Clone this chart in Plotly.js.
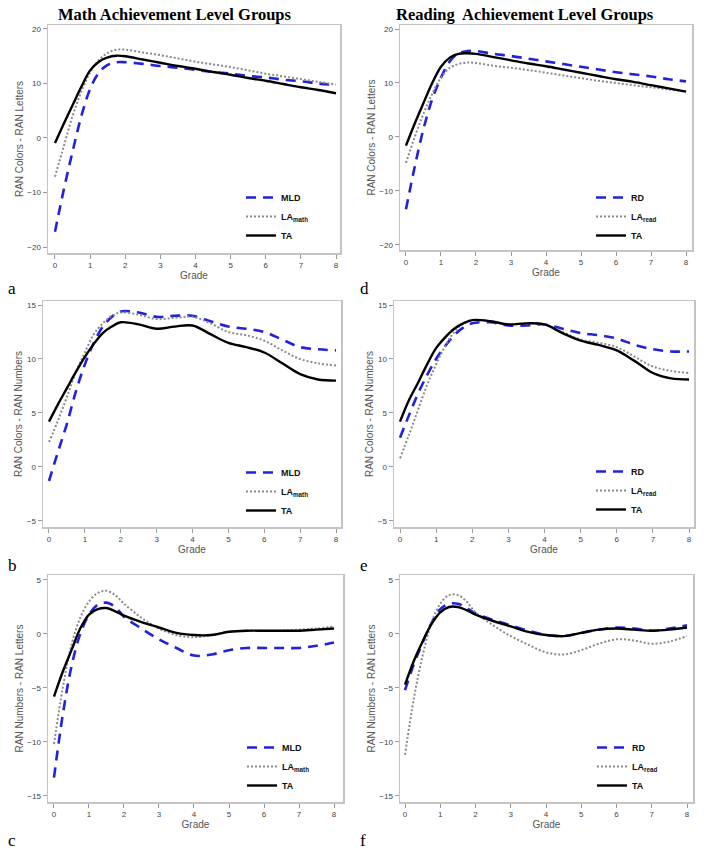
<!DOCTYPE html>
<html>
<head>
<meta charset="utf-8">
<script src="https://cdn.plot.ly/plotly-3.0.1.min.js"></script>
<style>html,body{margin:0;padding:0;background:#fff;}#chart{width:704px;height:852px;}</style>
</head>
<body>
<div id="chart"></div>
<script>
// ---- data ----
const grade = [0,0.25,0.5,0.75,1,1.25,1.5,1.75,2,2.5,3,3.5,4,4.5,5,5.5,6,6.5,7,7.5,8];
const xTicks = [0,1,2,3,4,5,6,7,8];

// (a) Math groups: RAN Colors - RAN Letters
const a_MLD = [-17.2,-9.5,-2.5,4,9,12,13.4,13.9,13.9,13.6,13.2,12.9,12.5,12.1,11.8,11.4,11.1,10.7,10.4,10.0,9.7];
const a_LA  = [-7.1,-1.5,4,8.5,12,14.3,15.6,16.2,16.2,15.7,15.2,14.6,14.0,13.5,13.0,12.4,11.8,11.3,10.8,10.3,9.8];
const a_TA  = [-0.9,2.6,6.0,9.4,12.4,14.0,14.8,15.1,15.0,14.4,13.8,13.2,12.7,12.1,11.6,11.0,10.5,9.9,9.3,8.8,8.2];
// (b) Math groups: RAN Colors - RAN Numbers
const b_MLD = [-1.3,1.4,4.0,7.0,9.5,11.5,13.0,13.9,14.4,14.3,13.9,14.0,14.0,13.5,13.0,12.8,12.5,11.8,11.1,10.9,10.8];
const b_LA  = [2.3,4.3,6.5,8.8,10.6,12.3,13.3,14.0,14.3,14.1,13.7,13.8,13.9,13.3,12.5,12.2,11.7,10.8,10.0,9.6,9.4];
const b_TA  = [4.2,5.8,7.3,8.8,10.2,11.4,12.4,13.0,13.4,13.2,12.8,13.0,13.1,12.3,11.5,11.1,10.6,9.6,8.6,8.1,8.0];
// (c) Math groups: RAN Numbers - RAN Letters
const c_MLD = [-13.3,-7.5,-3.0,0.0,1.8,2.7,2.9,2.5,1.6,0.5,-0.5,-1.3,-2.0,-1.9,-1.5,-1.3,-1.3,-1.3,-1.3,-1.1,-0.8];
const c_LA  = [-10.2,-5.0,-1.0,1.5,3.0,3.8,4.0,3.6,2.8,1.5,0.5,-0.1,-0.3,-0.1,0.2,0.3,0.3,0.3,0.4,0.5,0.7];
const c_TA  = [-5.8,-3.5,-1.5,0.5,1.8,2.3,2.4,2.1,1.7,1.1,0.6,0.1,-0.1,-0.1,0.2,0.3,0.3,0.3,0.3,0.4,0.5];
// (d) Reading groups: RAN Colors - RAN Letters
const d_RD  = [-13.4,-5.5,1.5,7,11,14,15.5,15.9,15.9,15.4,15.0,14.5,14.0,13.5,13.0,12.5,12.0,11.6,11.2,10.7,10.3];
const d_LA  = [-4.8,0,4.3,8,11,12.8,13.5,13.8,13.7,13.2,12.8,12.4,11.9,11.4,10.9,10.4,10.0,9.6,9.2,8.8,8.4];
const d_TA  = [-1.6,2.5,6.3,10,13,14.7,15.4,15.5,15.4,14.8,14.2,13.6,13.1,12.5,11.9,11.3,10.7,10.2,9.6,9.0,8.4];
// (e) Reading groups: RAN Colors - RAN Numbers
const e_RD  = [2.7,4.8,6.8,8.5,10.0,11.2,12.2,12.9,13.3,13.4,13.1,13.1,13.2,12.8,12.4,12.2,11.9,11.3,10.9,10.7,10.7];
const e_LA  = [0.8,3.0,5.3,7.6,9.5,11.2,12.5,13.3,13.6,13.5,13.2,13.3,13.2,12.5,11.8,11.5,11.1,10.2,9.3,8.9,8.7];
const e_TA  = [4.2,6.2,7.8,9.5,11.0,12.0,12.8,13.3,13.6,13.5,13.2,13.3,13.2,12.4,11.7,11.3,10.8,9.8,8.7,8.2,8.1];
// (f) Reading groups: RAN Numbers - RAN Letters
const f_RD  = [-5.2,-2.8,-0.8,1.0,2.3,2.8,2.8,2.4,1.9,1.3,0.8,0.3,-0.1,-0.2,0.1,0.4,0.6,0.5,0.3,0.5,0.8];
const f_LA  = [-11.2,-6.0,-2.0,1.0,2.8,3.6,3.6,3.0,2.0,0.8,-0.2,-1.0,-1.7,-1.9,-1.5,-0.9,-0.5,-0.6,-0.9,-0.7,-0.2];
const f_TA  = [-4.7,-2.5,-0.7,0.9,2.0,2.5,2.5,2.2,1.8,1.2,0.7,0.2,-0.1,-0.2,0.1,0.4,0.5,0.4,0.3,0.4,0.6];

const mathNames = ['<b>MLD</b>','<b>LA<sub>math</sub></b>','<b>TA</b>'];
const readNames = ['<b>RD</b>','<b>LA<sub>read</sub></b>','<b>TA</b>'];
const yLabels = ['RAN Colors - RAN Letters','RAN Colors - RAN Numbers','RAN Numbers - RAN Letters'];
const colTitles = ['Math Achievement Level Groups','Reading  Achievement Level Groups'];
const panelLetters = ['a','b','c','d','e','f'];

// ---- layout helpers (pixel boxes) ----
const W = 704, H = 852;
const px = v => v / W, py = v => 1 - v / H;

const panels = [
  {id:'',  series:[a_MLD,a_LA,a_TA], names:mathNames, ylab:yLabels[0], box:[48,340,25,253],  xr:[-0.199,8.114], yr:[-21.1,20.73], yt:[-20,-10,0,10,20], leg:[241,183]},
  {id:'2', series:[b_MLD,b_LA,b_TA], names:mathNames, ylab:yLabels[1], box:[43,341,301,527], xr:[-0.167,8.139], yr:[-5.56,15.37], yt:[-5,0,5,10,15], leg:[241,458]},
  {id:'3', series:[c_MLD,c_LA,c_TA], names:mathNames, ylab:yLabels[2], box:[48,343,575,802], xr:[-0.171,8.257], yr:[-15.56,5.46], yt:[-15,-10,-5,0,5], leg:[242,733]},
  {id:'4', series:[d_RD,d_LA,d_TA],  names:readNames, ylab:yLabels[0], box:[400,692,25,250], xr:[-0.171,8.171], yr:[-20.93,20.74], yt:[-20,-10,0,10,20], leg:[591,183]},
  {id:'5', series:[e_RD,e_LA,e_TA],  names:readNames, ylab:yLabels[1], box:[394,694,301,527],xr:[-0.166,8.138], yr:[-5.56,15.37], yt:[-5,0,5,10,15], leg:[591,457]},
  {id:'6', series:[f_RD,f_LA,f_TA],  names:readNames, ylab:yLabels[2], box:[400,693,575,802],xr:[-0.142,8.170], yr:[-15.56,5.46], yt:[-15,-10,-5,0,5], leg:[592,733]}
];

const styles = [
  {color:'#2222dd', width:2.6, dash:'10px,7px'},
  {color:'#8a8a8a', width:2.0, dash:'2px,2px'},
  {color:'#000000', width:2.4, dash:'solid'}
];

const traces = [];
const layout = {
  width: W, height: H,
  margin: {l:0, r:0, t:0, b:0},
  paper_bgcolor: '#ffffff',
  plot_bgcolor: '#ffffff',
  font: {family: 'Arial, "Liberation Sans", sans-serif', color: '#444'},
  showlegend: true,
  annotations: [],
  shapes: []
};

panels.forEach((p, i) => {
  const legKey = i === 0 ? 'legend' : 'legend' + (i + 1);
  p.series.forEach((ys, k) => {
    traces.push({
      type: 'scatter', mode: 'lines',
      x: grade, y: ys,
      name: p.names[k],
      xaxis: 'x' + p.id, yaxis: 'y' + p.id,
      legend: legKey,
      line: Object.assign({shape: 'spline', smoothing: 1.0}, styles[k]),
      hoverinfo: 'skip'
    });
  });
  const [l, r, t, b] = p.box;
  const axBase = {
    showgrid: false, zeroline: false,
    showline: true, mirror: true, linecolor: '#c4c4c4', linewidth: 1.5,
    ticks: 'outside', ticklen: 4, tickcolor: '#999', tickwidth: 1,
    tickfont: {size: 8, color: '#444', family: 'Arial, "Liberation Sans", sans-serif'},
    automargin: false, fixedrange: true
  };
  layout['xaxis' + p.id] = Object.assign({}, axBase, {
    domain: [px(l), px(r)], range: p.xr, anchor: 'y' + p.id,
    tickvals: xTicks,
    title: {text: 'Grade', font: {size: 10, color: '#555'}, standoff: 2}
  });
  layout['yaxis' + p.id] = Object.assign({}, axBase, {
    domain: [py(b), py(t)], range: p.yr, anchor: 'x' + p.id,
    tickvals: p.yt,
    title: {text: p.ylab, font: {size: 10, color: '#555'}, standoff: 2}
  });
  layout[legKey] = {
    x: px(p.leg[0]), y: py(p.leg[1]), xanchor: 'left', yanchor: 'top',
    xref: 'paper', yref: 'paper',
    bgcolor: 'rgba(0,0,0,0)', borderwidth: 0,
    font: {size: 9, color: '#111', family: 'Arial, "Liberation Sans", sans-serif'},
    itemwidth: 30, tracegroupgap: 0
  };
});

// column titles
layout.annotations.push(
  {text: '<b>' + colTitles[0] + '</b>', x: px(175), y: py(14), xref: 'paper', yref: 'paper',
   showarrow: false, xanchor: 'center', yanchor: 'middle',
   font: {family: '"Liberation Serif", "Times New Roman", serif', size: 16.5, color: '#000'}},
  {text: '<b>' + colTitles[1] + '</b>', x: px(525), y: py(14), xref: 'paper', yref: 'paper',
   showarrow: false, xanchor: 'center', yanchor: 'middle',
   font: {family: '"Liberation Serif", "Times New Roman", serif', size: 16.5, color: '#000'}}
);
// panel letters
const letterPos = [[6,289],[6,565],[6,840],[358,289],[358,565],[358,840]];
panelLetters.forEach((s, i) => {
  layout.annotations.push({text: s, x: px(letterPos[i][0]), y: py(letterPos[i][1]),
    xref: 'paper', yref: 'paper', showarrow: false, xanchor: 'left', yanchor: 'middle',
    font: {family: '"Liberation Serif", "Times New Roman", serif', size: 17, color: '#000'}});
});

Plotly.newPlot('chart', traces, layout, {displayModeBar: false, staticPlot: true});
</script>
</body>
</html>
